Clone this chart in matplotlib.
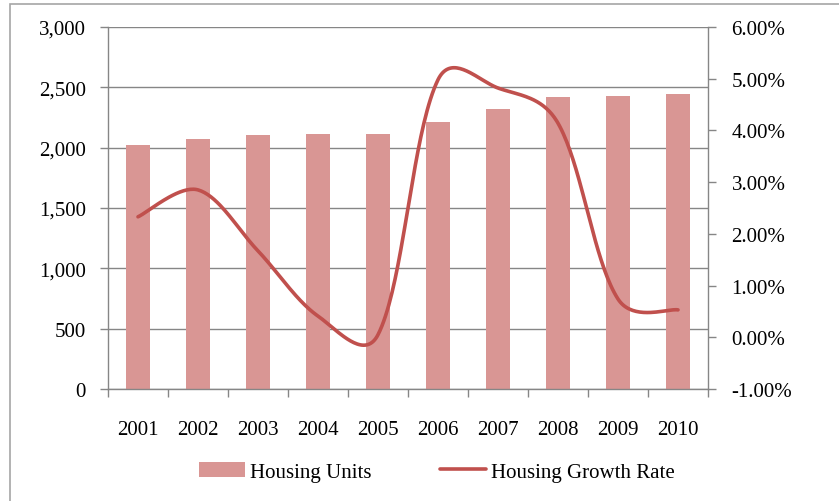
import numpy as np
import matplotlib.pyplot as plt
from matplotlib.patches import Rectangle
from matplotlib.ticker import FuncFormatter, MultipleLocator

years = ['2001', '2002', '2003', '2004', '2005', '2006', '2007', '2008', '2009', '2010']
housing_units = [2018, 2073, 2105, 2116, 2116, 2215, 2318, 2417, 2431, 2445]
growth_rate = [2.33, 2.85, 1.67, 0.41, 0.05, 4.98, 4.82, 4.14, 0.74, 0.53]

bar_color = '#D99694'
line_color = '#C0504D'
grid_color = '#868686'

plt.rcParams['font.family'] = ['Liberation Serif', 'DejaVu Serif']
plt.rcParams['font.size'] = 15


def smooth(x, y, sx=60.0, sy=51.7, n=40):
    # bezier smoothing through the points (roughly excel's smoothed line)
    P = np.column_stack([np.asarray(x, float) * sx, np.asarray(y, float) * sy])
    P = np.vstack([P[0], P, P[-1]])
    out = []
    t = np.linspace(0, 1, n)[:, None]
    for i in range(1, len(P) - 2):
        p0, p3 = P[i], P[i + 1]
        d0 = np.linalg.norm(P[i] - P[i - 1])
        d1 = np.linalg.norm(P[i + 1] - P[i])
        d2 = np.linalg.norm(P[i + 2] - P[i + 1])
        k0 = 0.5 * (1 / 6 + (d1 / (d0 + d1)) / 3) if d0 > 0 else 1 / 6
        k1 = 0.5 * (1 / 6 + (d1 / (d1 + d2)) / 3) if d2 > 0 else 1 / 6
        p1 = p0 + (P[i + 1] - P[i - 1]) * k0
        p2 = p3 - (P[i + 2] - P[i]) * k1
        b = (1 - t) ** 3 * p0 + 3 * (1 - t) ** 2 * t * p1 + 3 * (1 - t) * t ** 2 * p2 + t ** 3 * p3
        out.append(b)
    out = np.vstack(out)
    return out[:, 0] / sx, out[:, 1] / sy


fig = plt.figure(figsize=(8.39, 5.02), dpi=100)
fig.patches.append(Rectangle((10 / 839, -0.1), 1.2, 1.1 - 5 / 502, transform=fig.transFigure,
                             fill=False, edgecolor='#A6A6A6', linewidth=1.2))

ax = fig.add_axes([108 / 839, 1 - 390 / 502, 600 / 839, 362 / 502])
x = np.arange(len(years))
ax.bar(x, housing_units, width=0.4, color=bar_color, zorder=2, label='Housing Units')
ax.set_xlim(-0.5, len(years) - 0.5)
ax.set_ylim(0, 3000)
ax.yaxis.set_major_locator(MultipleLocator(500))
ax.yaxis.set_major_formatter(FuncFormatter(lambda v, p: f'{int(v):,}'))
ax.grid(axis='y', color=grid_color, linewidth=1.0, zorder=0)
ax.set_axisbelow(True)

ax.set_xticks(np.arange(len(years) + 1) - 0.5)
ax.set_xticklabels([])
ax.set_xticks(x, minor=True)
ax.set_xticklabels(years, minor=True)
ax.tick_params(axis='x', which='major', length=6, width=1, color=grid_color, direction='out')
ax.tick_params(axis='x', which='minor', length=0, pad=22)
ax.tick_params(axis='y', length=6, width=1, color=grid_color, pad=10)

for s in ['top', 'right']:
    ax.spines[s].set_visible(False)
for s in ['left', 'bottom']:
    ax.spines[s].set_color(grid_color)
    ax.spines[s].set_linewidth(1.0)

ax2 = ax.twinx()
cx, cy = smooth(x, growth_rate)
ax2.plot(cx, cy, color=line_color, linewidth=2.6, solid_capstyle='round', zorder=3,
         label='Housing Growth Rate')
ax2.set_ylim(-1, 6)
ax2.yaxis.set_major_locator(MultipleLocator(1))
ax2.yaxis.set_major_formatter(FuncFormatter(lambda v, p: f'{v:.2f}%'))
ax2.tick_params(axis='y', length=6, width=1, color=grid_color, pad=11)
for s in ['top', 'left', 'bottom']:
    ax2.spines[s].set_visible(False)
ax2.spines['right'].set_color(grid_color)
ax2.spines['right'].set_linewidth(1.0)

h1, l1 = ax.get_legend_handles_labels()
h2, l2 = ax2.get_legend_handles_labels()
fig.legend(h1 + h2, l1 + l2, loc='center left', bbox_to_anchor=(180 / 839, 0.058), ncol=2,
           frameon=False, handlelength=2.2, handleheight=0.7, handletextpad=0.25,
           columnspacing=3.3)

fig.savefig('out.png', dpi=100)
